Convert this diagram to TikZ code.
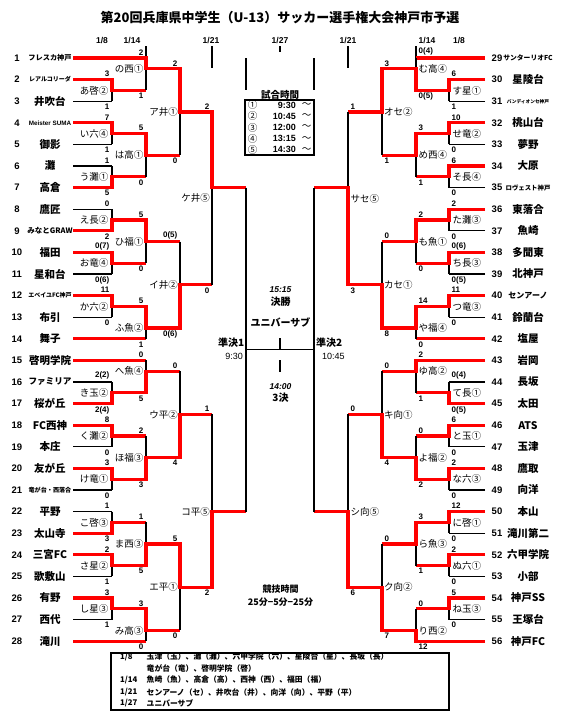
\documentclass[tikz,border=0pt]{standalone}
\usepackage{fontspec}
\setmainfont{Noto Sans CJK JP}
\newfontfamily\arial{Liberation Sans}
\usetikzlibrary{positioning}

\newcommand\rowy[1]{58+21.6*(#1-1)}
\newcommand\tsz[1]{\fontsize{#1}{#1}\selectfont}
% one match: x in, x of the bar, x out, winner row, loser row, junction row
\newcommand\bout[6]{%
  \draw[lost] (#2,{\rowy{#5}}) -- (#2,{\rowy{#6}});
  \draw[won] (#1,{\rowy{#4}}) -| (#2,{\rowy{#6}}) -- (#3,{\rowy{#6}});}

\begin{document}
\begin{tikzpicture}[x=1pt,y=-1pt,
 won/.style={draw=red,line width=3.2pt},
 lost/.style={draw=black,line width=1.3pt},
 team/.style={font=\bfseries\tsz{10.5},inner sep=0pt},
 num/.style={font=\arial\bfseries\tsz{9.5},inner sep=0pt},
 lab/.style={font=\tsz{9.5},inner sep=0pt},
 sc/.style={font=\arial\bfseries\tsz{8},inner sep=0pt},
 hd/.style={font=\arial\bfseries\tsz{8.5},inner sep=0pt},
 ctr/.style={font=\bfseries\tsz{10},inner sep=0pt},
 memo/.style={font=\bfseries\tsz{7.8},inner sep=0pt,anchor=west}]
\useasboundingbox (0,0) rectangle (562,723);

% title and dates
\node[font=\bfseries\tsz{13},inner sep=0pt] (title) at (280,18) {第20回兵庫県中学生（U-13）サッカー選手権大会神戸市予選};
\node[hd] (d1) at (102,41) {1/8};
\node[hd] (d2) at (132,41) {1/14};
\node[hd] (d3) at (211,41) {1/21};
\node[hd] (d4) at (280,41) {1/27};
\node[hd] (d5) at (348,41) {1/21};
\node[hd] (d6) at (427,41) {1/14};
\node[hd] (d7) at (459,41) {1/8};
\draw[lost] (146,46) -- (146,58);
\draw[lost] (416,46) -- (416,58);
\draw[lost] (280,46) -- (280,52);
\draw[lost] (212,46) -- (212,68);
\draw[lost] (348,46) -- (348,68);
\draw[lost] (246,58) -- (246,90);
\draw[lost] (314,58) -- (314,90);

% teams
\foreach \t [count=\i] in {{\tsz{7.2}フレスカ神戸},{\tsz{6}レアルコリーダ},井吹台,{\arial\tsz{6.3}Meister SUMA},御影,灘,高倉,
  鷹匠,{\tsz{7.5}みなとGRAW},福田,星和台,{\tsz{6}エベイユFC神戸},布引,舞子,
  啓明学院,{\tsz{8.6}ファミリア},桜が丘,FC西神,本庄,友が丘,{\tsz{6.1}竜が台・西落合},
  平野,太山寺,三宮FC,歌敷山,有野,西代,滝川}{
  \node[num] (n\i) at (17,{\rowy{\i}}) {\i};
  \node[team] (t\i) at (50,{\rowy{\i}}) {\t};
  \coordinate (s\i) at (73,{\rowy{\i}});}
\foreach \t [count=\i from 29] in {{\tsz{6.8}サンターリオFC},星陵台,{\tsz{4.7}バンディオンセ神戸},桃山台,夢野,大原,{\tsz{6.4}ロヴェスト神戸},
  東落合,魚崎,多聞東,北神戸,{\tsz{8}センアーノ},鈴蘭台,塩屋,
  岩岡,長坂,太田,ATS,玉津,鷹取,向洋,
  本山,滝川第二,六甲学院,小部,神戸SS,王塚台,神戸FC}{
  \node[num] (n\i) at (497,{\rowy{\i-28}}) {\i};
  \node[team] (t\i) at (528,{\rowy{\i-28}}) {\t};
  \coordinate (s\i) at (485,{\rowy{\i-28}});}

% lines of teams out in the first round, and byes
\foreach \i in {3,5,6,8,11,13,16,19,21,22,25,27} \draw[lost] (s\i) -- ++(39,0);
\foreach \i in {14,15,28} \draw[won] (s\i) -- ++(73,0);
\foreach \i in {31,33,35,37,39,41,44,47,49,51,53,55} \draw[lost] (s\i) -- ++(-36,0);
\foreach \i in {29,42} \draw[won] (s\i) -- ++(-69,0);

% left half
\foreach \w/\l/\j in {2/3/2.5,4/5/4.5,7/6/6.5,9/8/8.5,10/11/10.5,12/13/12.5,
  17/16/16.5,18/19/18.5,20/21/20.5,23/22/22.5,24/25/24.5,26/27/26.5} {\bout{73}{112}{146}{\w}{\l}{\j}}
\foreach \xi/\w/\l/\j in {73/1/2.5/1.5,112/4.5/6.5/5.5,112/8.5/10.5/9.5,112/12.5/14/13.5,
  112/16.5/15/15.5,112/20.5/18.5/19.5,112/24.5/22.5/23.5,112/26.5/28/27.5} {\bout{\xi}{146}{180}{\w}{\l}{\j}}
\foreach \w/\l/\j in {1.5/5.5/3.5,13.5/9.5/11.5,19.5/15.5/17.5,23.5/27.5/25.5} {\bout{146}{180}{212}{\w}{\l}{\j}}
\foreach \w/\l/\j in {3.5/11.5/7,25.5/17.5/22} {\bout{180}{212}{246}{\w}{\l}{\j}}

% right half
\foreach \w/\l/\j in {2/3/2.5,4/5/4.5,6/7/6.5,8/9/8.5,10/11/10.5,12/13/12.5,
  17/16/16.5,18/19/18.5,20/21/20.5,22/23/22.5,24/25/24.5,26/27/26.5} {\bout{485}{449}{416}{\w}{\l}{\j}}
\foreach \xi/\w/\l/\j in {449/2.5/1/1.5,449/4.5/6.5/5.5,449/8.5/10.5/9.5,449/12.5/14/13.5,
  485/15/16.5/15.5,449/20.5/18.5/19.5,449/22.5/24.5/23.5,485/28/26.5/27.5} {\bout{\xi}{416}{382}{\w}{\l}{\j}}
\foreach \w/\l/\j in {1.5/5.5/3.5,13.5/9.5/11.5,19.5/15.5/17.5,27.5/23.5/25.5} {\bout{416}{382}{348}{\w}{\l}{\j}}
\foreach \w/\l/\j in {11.5/3.5/7,25.5/17.5/22} {\bout{382}{348}{314}{\w}{\l}{\j}}

% semi-finals and final
\draw[lost] (246,{\rowy{7}}) -- (246,{\rowy{22}});
\draw[lost] (314,{\rowy{7}}) -- (314,{\rowy{22}});
\draw[lost] (246,{\rowy{14.5}}) -- (314,{\rowy{14.5}});
\draw[lost] (280,338) -- (280,{\rowy{14.5}});
\draw[lost] (280,360) -- (280,372);

% match labels
\foreach \x/\r/\m [count=\k] in {108.5/2.5/あ啓②,108.5/4.5/い六④,108.5/6.5/う灘①,108.5/8.5/え長②,
  108.5/10.5/お竜④,108.5/12.5/か六②,108.5/16.5/き玉②,108.5/18.5/く灘②,108.5/20.5/け竜①,
  108.5/22.5/こ啓③,108.5/24.5/さ星②,108.5/26.5/し星③,
  143.5/1.5/の西①,143.5/5.5/は高①,143.5/9.5/ひ福①,143.5/13.5/ふ魚②,
  143.5/15.5/へ魚④,143.5/19.5/ほ福③,143.5/23.5/ま西③,143.5/27.5/み高③,
  178/3.5/ア井①,178/11.5/イ井②,178/17.5/ウ平②,178/25.5/エ平①,
  210/7.5/ケ井⑤,210/22/コ平⑤}
  \node[lab,anchor=east] (ml\k) at (\x,{\rowy{\r}}) {\m};
\foreach \x/\r/\m [count=\k] in {452.5/2.5/す星①,452.5/4.5/せ竜②,452.5/6.5/そ長④,452.5/8.5/た灘③,
  452.5/10.5/ち長③,452.5/12.5/つ竜③,452.5/16.5/て長①,452.5/18.5/と玉①,452.5/20.5/な六③,
  452.5/22.5/に啓①,452.5/24.5/ぬ六①,452.5/26.5/ね玉③,
  418.5/1.5/む高④,418.5/5.5/め西④,418.5/9.5/も魚①,418.5/13.5/や福④,
  418.5/15.5/ゆ高②,418.5/19.5/よ福②,418.5/23.5/ら魚③,418.5/27.5/り西②,
  384/3.5/オセ②,384/11.5/カセ①,384/17.5/キ向①,384/25.5/ク向②,
  350.5/7.5/サセ⑤,350.5/22/シ向⑤}
  \node[lab,anchor=west] (mr\k) at (\x,{\rowy{\r}}) {\m};

% scores
\foreach \x/\r/\s [count=\k] in {112/2/3,112/4/7,112/6/1,112/8/0,112/10/0(7),112/12/11,
  112/16/2(2),112/18/8,112/20/3,112/22/1,112/24/2,112/26/3,
  146/1/2,146/4.5/5,146/8.5/5,146/12.5/5,146/15/0,146/18.5/2,146/22.5/1,146/26.5/3,
  180/1.5/2,180/9.5/0(5),180/15.5/0,180/23.5/5,212/3.5/2,212/17.5/1}
  \node[sc,anchor=south east] (sa\k) at (\x-2.5,{\rowy{\r}-2.5}) {\s};
\foreach \x/\r/\s [count=\k] in {112/3/1,112/5/1,112/7/5,112/9/2,112/11/0(6),112/13/0,
  112/17/2(4),112/19/0,112/21/0,112/23/3,112/25/1,112/27/1,
  146/2.5/1,146/6.5/0,146/10.5/0,146/14/1,146/16.5/5,146/20.5/3,146/24.5/5,146/28/0,
  180/5.5/0,180/13.5/0(6),180/19.5/4,180/27.5/0,212/11.5/0,212/25.5/2}
  \node[sc,anchor=north east] (sb\k) at (\x-2.5,{\rowy{\r}+2.5}) {\s};
\foreach \x/\r/\s [count=\k] in {449/2/6,449/4/10,449/6/6,449/8/2,449/10/0(6),449/12/11,
  449/16/0(4),449/18/6,449/20/2,449/22/12,449/24/2,449/26/5,
  416/1/0(4),416/4.5/3,416/8.5/2,416/12.5/14,416/15/2,416/18.5/0,416/22.5/3,416/26.5/0,
  382/1.5/3,382/9.5/0,382/15.5/0,382/23.5/0,348/3.5/1,348/17.5/0}
  \node[sc,anchor=south west] (sc\k) at (\x+2.5,{\rowy{\r}-2.5}) {\s};
\foreach \x/\r/\s [count=\k] in {449/3/1,449/5/0,449/7/0,449/9/0,449/11/0(5),449/13/0,
  449/17/0(5),449/19/0,449/21/0,449/23/0,449/25/0,449/27/0,
  416/2.5/0(5),416/6.5/1,416/10.5/0,416/14/0,416/16.5/1,416/20.5/2,416/24.5/1,416/28/12,
  382/5.5/1,382/13.5/8,382/19.5/4,382/27.5/7,348/11.5/3,348/25.5/6}
  \node[sc,anchor=north west] (sd\k) at (\x+2.5,{\rowy{\r}+2.5}) {\s};

% match times
\node[ctr,font=\bfseries\tsz{9.5}] (jk) at (280,94.5) {試合時間};
\node[draw,line width=1.3pt,minimum width=69pt,minimum height=55pt,inner sep=0pt] (jikan) at (279.5,127.5) {};
\foreach \c/\tm [count=\k] in {①/9:30,②/10:45,③/12:00,④/13:15,⑤/14:30}{
  \node[lab] (c\k) at (252.7,{93.8+11.2*\k}) {\c};
  \node[sc,font=\arial\bfseries\tsz{9},anchor=east] (tm\k) at (296,{93.8+11.2*\k}) {\tm};
  \node[lab] (wv\k) at (306.5,{93.8+11.2*\k}) {〜};}

% centre
\node[font=\arial\bfseries\itshape\tsz{8.5},inner sep=0pt] (fin) at (280.5,290) {15:15};
\node[ctr] (kessho) at (280.5,302) {決勝};
\node[ctr] (champ) at (280.5,322) {ユニバーサブ};
\node[font=\arial\bfseries\itshape\tsz{8.5},inner sep=0pt] (thr) at (280.5,387) {14:00};
\node[ctr] (sanke) at (280.5,397.5) {3決};
\node[ctr,anchor=east] (sf1) at (244.5,343) {準決1};
\node[sc,font=\arial\tsz{9},anchor=east] (sf1t) at (243,356) {9:30};
\node[ctr,anchor=west] (sf2) at (316,343) {準決2};
\node[sc,font=\arial\tsz{9},anchor=west] (sf2t) at (322,356) {10:45};
\node[ctr,font=\bfseries\tsz{9}] (kg) at (280.5,589) {競技時間};
\node[ctr,font=\bfseries\tsz{9}] (kgt) at (280.5,602) {25分−5分−25分};

% key
\node[draw,line width=1.5pt,minimum width=338pt,minimum height=57pt,inner sep=0pt] (key) at (280,681.3) {};
\node[memo] (k1) at (120,656.7) {1/8};
\node[memo] (k1a) at (146.5,656.7) {玉津（玉）、灘（灘）、六甲学院（六）、星陵台（星）、長坂（長）};
\node[memo] (k1b) at (146.5,668.3) {竜が台（竜）、啓明学院（啓）};
\node[memo] (k2) at (120,680) {1/14};
\node[memo] (k2a) at (146.5,680) {魚崎（魚）、高倉（高）、西神（西）、福田（福）};
\node[memo] (k3) at (120,692.3) {1/21};
\node[memo] (k3a) at (146.5,692.3) {センアーノ（セ）、井吹台（井）、向洋（向）、平野（平）};
\node[memo] (k4) at (120,703.5) {1/27};
\node[memo] (k4a) at (146.5,703.5) {ユニバーサブ};
\end{tikzpicture}
\end{document}
